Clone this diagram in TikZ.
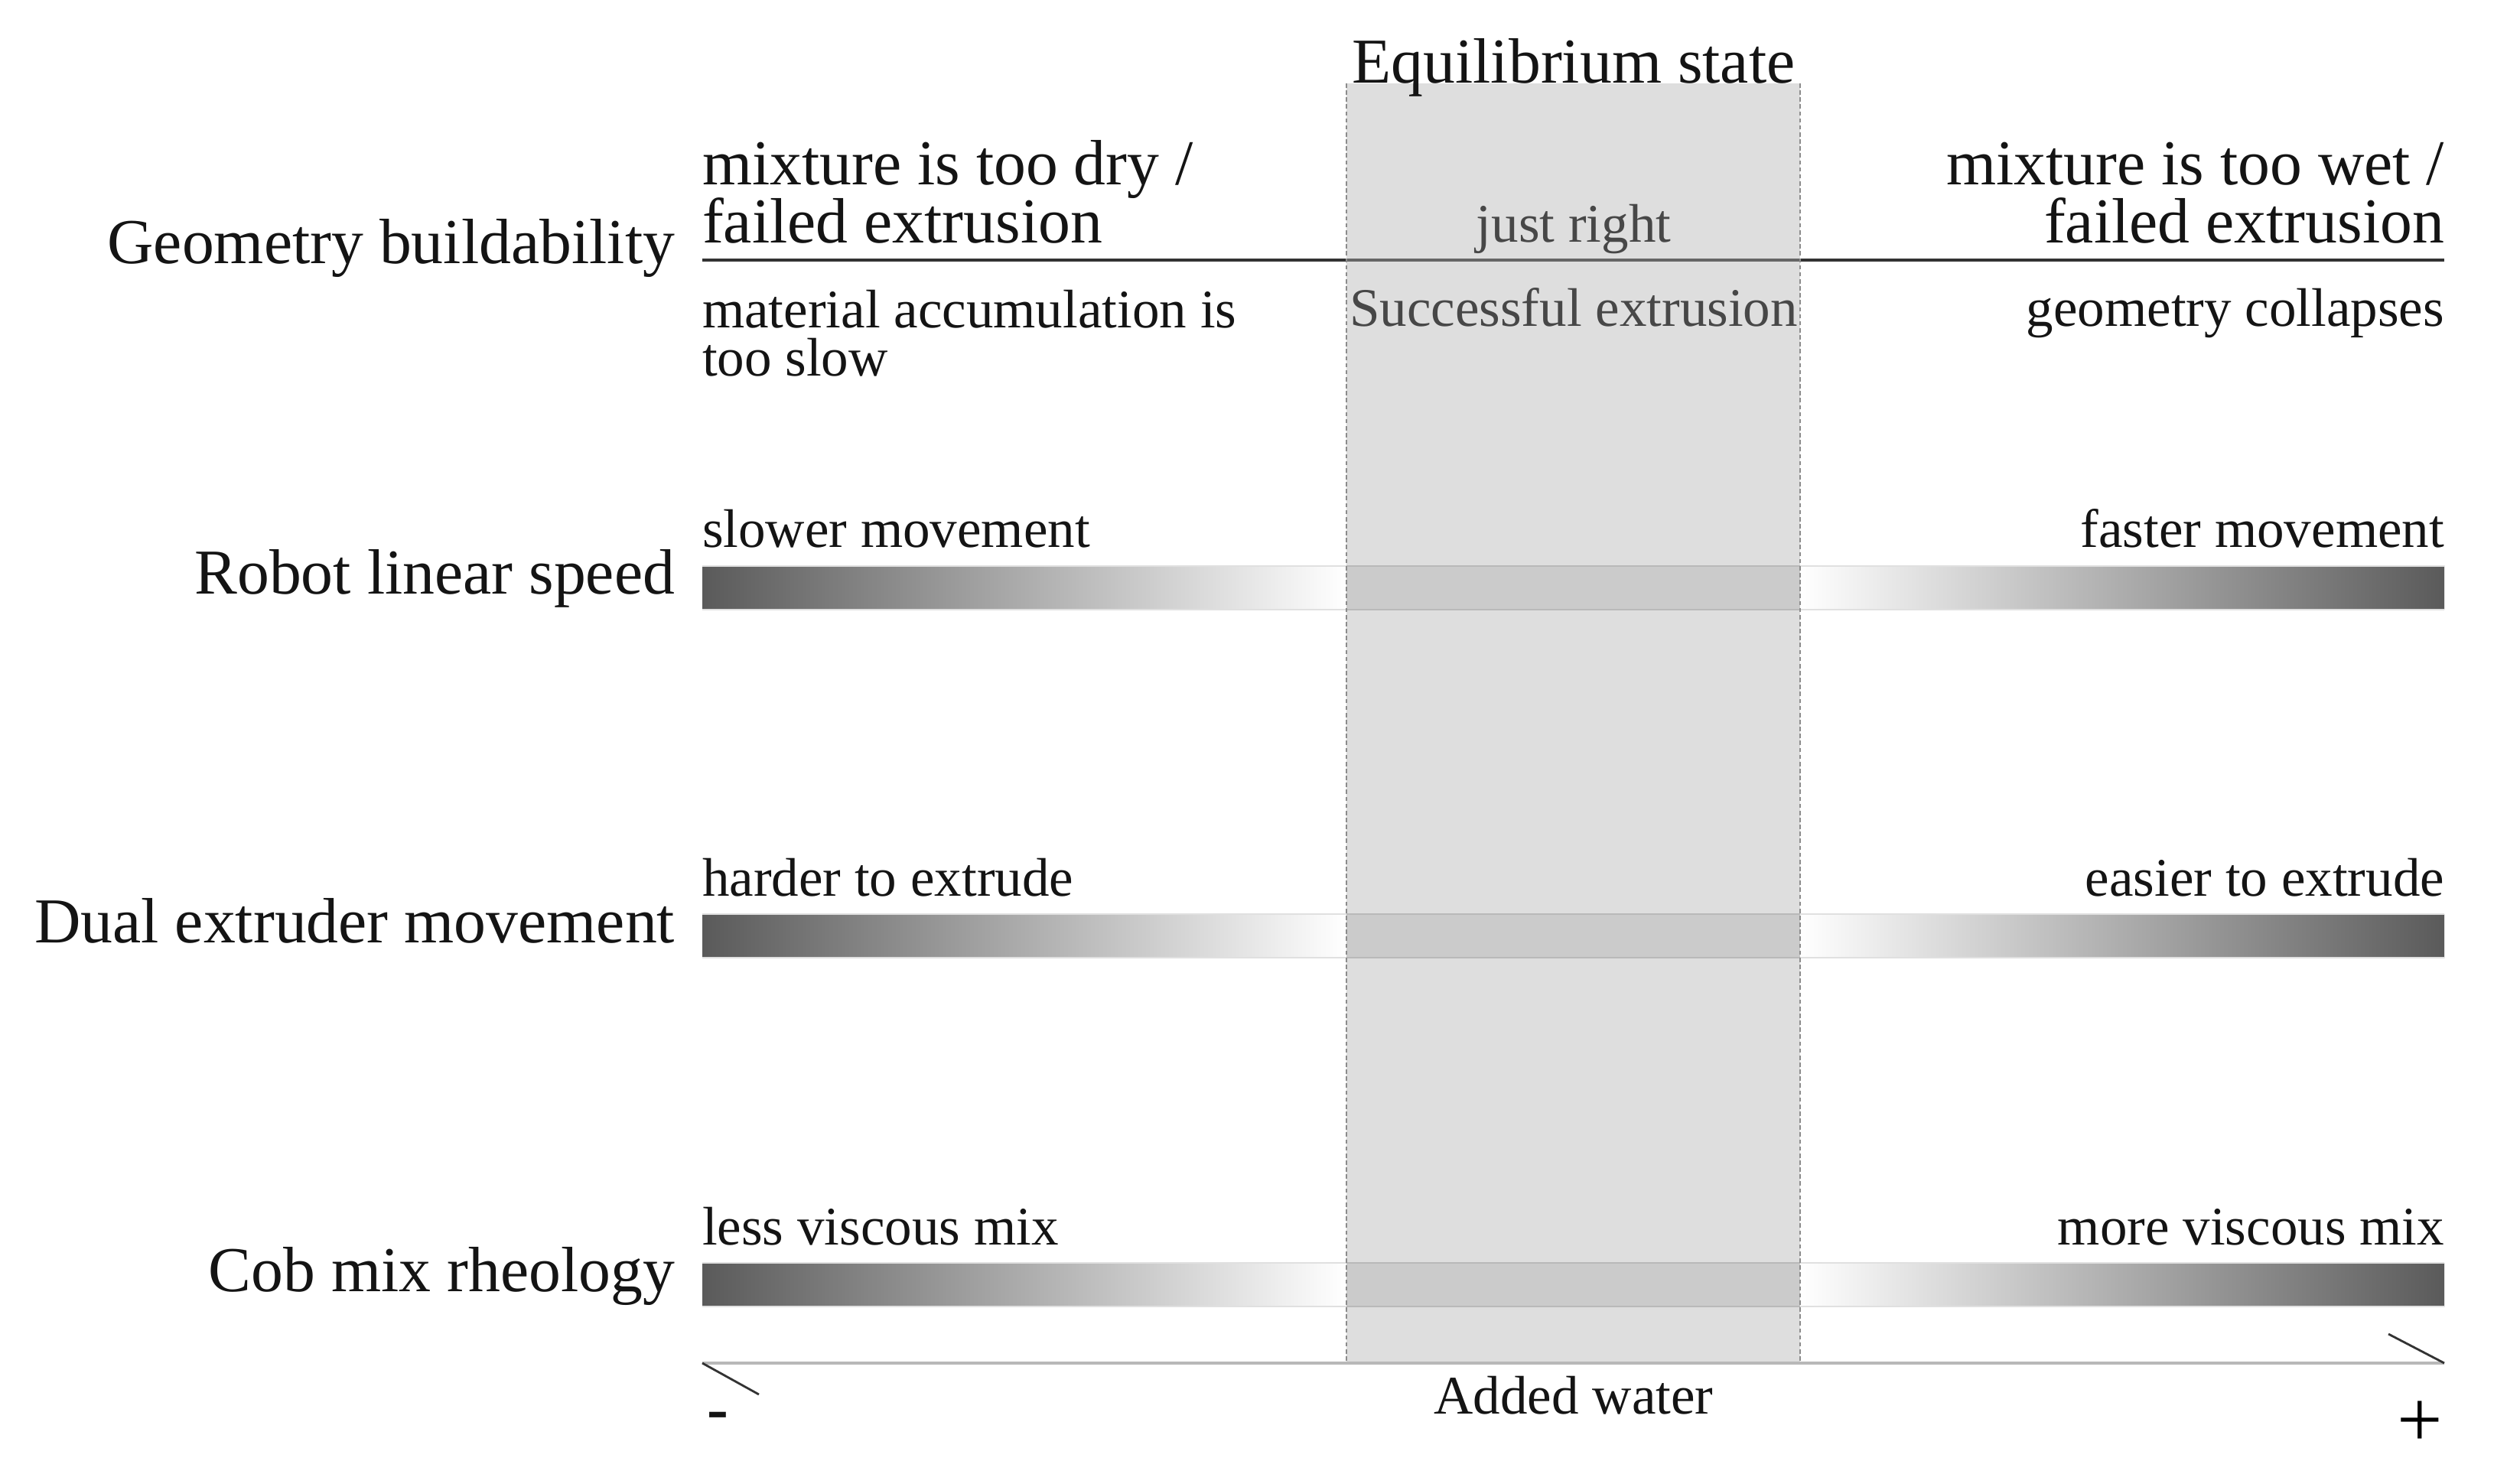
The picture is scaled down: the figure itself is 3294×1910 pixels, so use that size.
\documentclass[tikz,border=0pt]{standalone}
\usepackage{fontspec}
\setmainfont{Liberation Serif}
\newcommand{\bigf}{\fontsize{23.8pt}{28pt}\selectfont}
\newcommand{\smallf}{\fontsize{20.2pt}{24pt}\selectfont}
\newcommand{\tightf}{\fontsize{20.2pt}{17.9pt}\selectfont}
\newcommand{\plusf}{\fontsize{30pt}{34pt}\selectfont}
\definecolor{bandgray}{HTML}{DEDEDE}
\definecolor{midgray}{HTML}{CBCBCB}
\definecolor{midedge}{HTML}{B9B9B9}
\definecolor{txtgray}{HTML}{474747}
\definecolor{linedark}{HTML}{333333}
\definecolor{barend}{HTML}{5A5A5A}
\begin{document}
\begin{tikzpicture}[x=0.01cm,y=-0.01cm,
  biglab/.style={inner sep=0pt,outer sep=0pt,font=\bigf,text=black!92},
  smlab/.style={inner sep=0pt,outer sep=0pt,font=\smallf,text=black!92},
  graylab/.style={inner sep=0pt,outer sep=0pt,font=\smallf,text=txtgray},
  dotline/.style={draw=black!45,line width=0.6pt,dash pattern=on 1.6pt off 1pt},
  edgeline/.style={draw=black!12,line width=0.5pt},
  slash/.style={draw=linedark,line width=0.8pt}]
\useasboundingbox (0,0) rectangle (3294,1910);
% equilibrium band
\fill[bandgray] (1760,109) rectangle (2353,1782);
% geometry line
\draw[linedark,line width=0.9pt] (918,340) -- (1760,340);
\draw[black!60,line width=0.9pt] (1760,340) -- (2353,340);
\draw[linedark,line width=0.9pt] (2353,340) -- (3195,340);
% gradient bars
\foreach \y/\n in {740/r,1195/d,1651/c}{
  \shade[left color=barend,right color=white] (918,\y) rectangle (1760,\y+57);
  \fill[midgray] (1760,\y) rectangle (2353,\y+57);
  \shade[left color=white,right color=barend] (2353,\y) rectangle (3195,\y+57);
  \draw[edgeline] (918,\y) -- (1760,\y) (918,\y+57) -- (1760,\y+57);
  \draw[edgeline] (2353,\y) -- (3195,\y) (2353,\y+57) -- (3195,\y+57);
  \draw[midedge,line width=0.6pt] (1760,\y) -- (2353,\y) (1760,\y+57) -- (2353,\y+57);
}
% axis
\coordinate (axL) at (918,1782);
\coordinate (axR) at (3195,1782);
\draw[black!28,line width=0.9pt] (axL) -- (axR);
\coordinate (slL) at (992,1823);
\coordinate (slR) at (3122,1744);
\draw[slash] (axL) -- (slL);
\draw[slash] (slR) -- (axR);
% dotted band edges
\draw[dotline] (1760,109) -- (1760,1782);
\draw[dotline] (2353,109) -- (2353,1782);
% texts
\node[biglab,anchor=base] (eq) at (2057,109) {Equilibrium state};
\node[biglab,anchor=base east] (rowg) at (882,345) {Geometry buildability};
\node[biglab,anchor=base east] (rowr) at (882,777) {Robot linear speed};
\node[biglab,anchor=base east] (rowd) at (882,1232) {Dual extruder movement};
\node[biglab,anchor=base east] (rowc) at (882,1688) {Cob mix rheology};
\node[biglab,anchor=base west] (dry1) at (918,242) {mixture is too dry /};
\node[biglab,anchor=base west] (dry2) at (918,318) {failed extrusion};
\node[biglab,anchor=base east] (wet1) at (3195,242) {mixture is too wet /};
\node[biglab,anchor=base east] (wet2) at (3195,318) {failed extrusion};
\node[graylab,anchor=base] (jr) at (2057,317) {just right};
\node[graylab,anchor=base] (se) at (2057,427) {Successful extrusion};
\node[smlab,font=\tightf,align=left,anchor=north west] (ma) at (918,379) {material accumulation is\\too slow};
\node[smlab,anchor=base east] (gc) at (3195,427) {geometry collapses};
\node[smlab,anchor=base west] (sl) at (918,716) {slower movement};
\node[smlab,anchor=base east] (fa) at (3195,716) {faster movement};
\node[smlab,anchor=base west] (ha) at (918,1171) {harder to extrude};
\node[smlab,anchor=base east] (ea) at (3195,1171) {easier to extrude};
\node[smlab,anchor=base west] (le) at (918,1627) {less viscous mix};
\node[smlab,anchor=base east] (mo) at (3195,1627) {more viscous mix};
\node[smlab,anchor=base] (aw) at (2057,1848) {Added water};
\node[biglab,font=\bigf\bfseries] (minus) at (938,1858) {-};
\node[inner sep=0pt,font=\plusf] (plus) at (3163,1862) {+};
\end{tikzpicture}
\end{document}
